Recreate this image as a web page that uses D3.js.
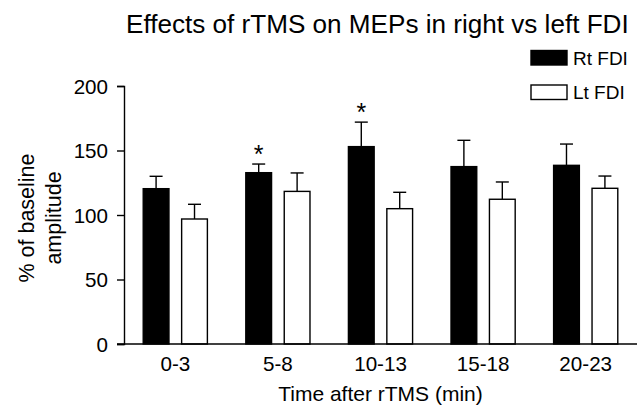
<!DOCTYPE html>
<html>
<head>
<meta charset="utf-8">
<script src="https://cdn.jsdelivr.net/npm/d3@7"></script>
<style>
  body { margin: 0; background: #fff; }
  text { font-family: "Liberation Sans", Arial, sans-serif; fill: #000; }
</style>
</head>
<body>
<div id="chart"></div>
<script>
// data (mean and SEM, % of baseline)
var timeBins = ["0-3", "5-8", "10-13", "15-18", "20-23"];
var seriesNames = ["Rt FDI", "Lt FDI"];
var rtMean = [120.4, 132.8, 153, 137.5, 138.5];
var rtSem  = [9.6, 6.7, 19, 20.4, 16.5];
var ltMean = [96.9, 118.3, 104.9, 112.2, 120.7];
var ltSem  = [11.4, 14.3, 12.7, 13.4, 9.5];
var rtSignificant = [false, true, true, false, false];
var yTicks = [0, 50, 100, 150, 200];

var width = 637, height = 406;

var svg = d3.select("#chart")
  .append("svg")
    .attr("width", width)
    .attr("height", height);

// scales
var x = d3.scaleBand()
  .domain(timeBins)
  .range([124, 637]);

var xSub = d3.scaleBand()
  .domain(seriesNames)
  .range([0, x.bandwidth()])
  .paddingInner(0.33)
  .paddingOuter(0.5);

var y = d3.scaleLinear()
  .domain([0, 200])
  .range([344, 86]);

var fillFor = { "Rt FDI": "#000", "Lt FDI": "#fff" };

// one row per bar
var rows = [];
timeBins.forEach(function(t, i) {
  rows.push({ bin: t, series: "Rt FDI", mean: rtMean[i], sem: rtSem[i], star: rtSignificant[i] });
  rows.push({ bin: t, series: "Lt FDI", mean: ltMean[i], sem: ltSem[i], star: false });
});

var barX = function(d) { return x(d.bin) + xSub(d.series); };
var barMid = function(d) { return barX(d) + xSub.bandwidth() / 2; };

// error bars (upward only)
var err = svg.append("g")
  .attr("stroke", "#000")
  .attr("stroke-width", 1.4);

err.selectAll(".stem")
  .data(rows)
  .enter()
  .append("line")
    .attr("x1", barMid).attr("x2", barMid)
    .attr("y1", function(d) { return y(d.mean); })
    .attr("y2", function(d) { return y(d.mean + d.sem); });

err.selectAll(".cap")
  .data(rows)
  .enter()
  .append("line")
    .attr("x1", function(d) { return barMid(d) - 6.5; })
    .attr("x2", function(d) { return barMid(d) + 6.5; })
    .attr("y1", function(d) { return y(d.mean + d.sem); })
    .attr("y2", function(d) { return y(d.mean + d.sem); });

// bars
svg.append("g")
  .selectAll("rect")
  .data(rows)
  .enter()
  .append("rect")
    .attr("x", barX)
    .attr("y", function(d) { return y(d.mean); })
    .attr("width", xSub.bandwidth())
    .attr("height", function(d) { return y(0) - y(d.mean); })
    .attr("fill", function(d) { return fillFor[d.series]; })
    .attr("stroke", "#000")
    .attr("stroke-width", 1.4);

// significance stars
svg.append("g")
  .selectAll("text")
  .data(rows.filter(function(d) { return d.star; }))
  .enter()
  .append("text")
    .attr("x", barMid)
    .attr("y", function(d) { return y(d.mean + d.sem) - 1; })
    .attr("text-anchor", "middle")
    .style("font-size", "25px")
    .text("*");

// axes
var yAxis = svg.append("g")
  .attr("transform", "translate(124,0)")
  .call(d3.axisLeft(y).tickValues(yTicks).tickSize(7).tickPadding(9));

var xAxis = svg.append("g")
  .attr("transform", "translate(0,344)")
  .call(d3.axisBottom(x).tickSize(0).tickPadding(12));

[yAxis, xAxis].forEach(function(g) {
  g.select(".domain").attr("stroke-width", 1.4);
  g.selectAll(".tick line").attr("stroke-width", 1.4);
  g.selectAll("text")
    .style("font-family", "'Liberation Sans', Arial, sans-serif")
    .style("font-size", "20.6px")
    .attr("fill", "#000");
});
yAxis.selectAll("text").attr("dy", "0.35em");
xAxis.selectAll("text").attr("dy", "0.71em");
// x axis line starts where the y ticks stop
xAxis.select(".domain").attr("d", "M117,0H637");

// title
svg.append("text")
  .attr("x", 126)
  .attr("y", 33)
  .style("font-size", "26.1px")
  .text("Effects of rTMS on MEPs in right vs left FDI");

// axis titles
svg.append("text")
  .attr("x", 380.5)
  .attr("y", 401)
  .attr("text-anchor", "middle")
  .style("font-size", "21px")
  .text("Time after rTMS (min)");

var yLab = svg.append("text")
  .attr("transform", "translate(34,218) rotate(-90)")
  .attr("text-anchor", "middle")
  .style("font-size", "21.5px");
yLab.append("tspan").attr("x", 0).attr("y", 0).text("% of baseline");
yLab.append("tspan").attr("x", 0).attr("y", 27).text("amplitude");

// legend
var legend = svg.append("g")
  .selectAll("g")
  .data(seriesNames)
  .enter()
  .append("g")
    .attr("transform", function(d, i) { return "translate(531," + (50.5 + i * 34.5) + ")"; });

legend.append("rect")
  .attr("width", 36)
  .attr("height", 14.5)
  .attr("fill", function(d) { return fillFor[d]; })
  .attr("stroke", "#000")
  .attr("stroke-width", 1.4);

legend.append("text")
  .attr("x", 42)
  .attr("y", 14)
  .style("font-size", "19px")
  .text(function(d) { return d; });
</script>
</body>
</html>
